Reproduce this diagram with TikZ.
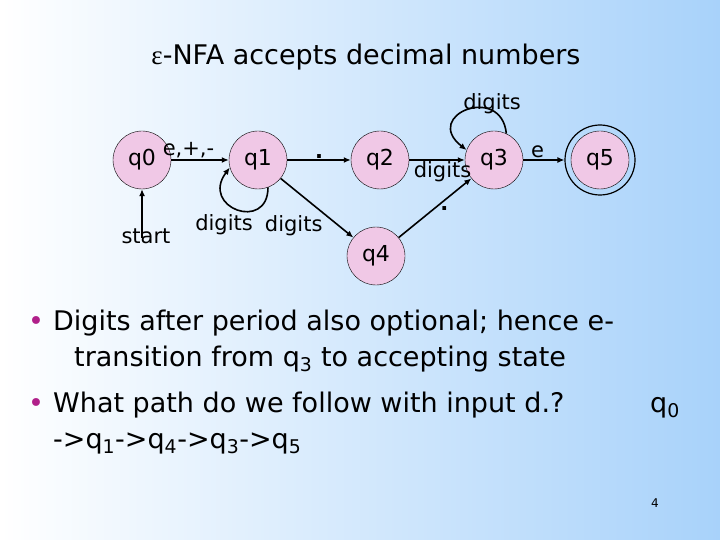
\documentclass[tikz,border=0pt]{standalone}
\usepackage{fontspec}
\setmainfont{DejaVu Sans}
\newfontfamily\serifeps{Liberation Serif}
\usetikzlibrary{arrows.meta}
\definecolor{bgblue}{HTML}{A8D2FA}
\definecolor{nodepink}{HTML}{F0C8E6}
\definecolor{bulletc}{HTML}{B0208A}
\begin{document}
\begin{tikzpicture}[x=1pt,y=-1pt,
  st/.style={circle,draw=black,thin,fill=nodepink,minimum size=58pt,inner sep=0pt,font=\fontsize{22}{22}\selectfont},
  lab/.style={font=\fontsize{21}{21}\selectfont,inner sep=1pt},
  ed/.style={-{Latex[length=7pt,width=6pt]},line width=1.6pt},
  txt/.style={anchor=base west,font=\fontsize{27}{27}\selectfont,inner sep=0pt}]
\shade[left color=white,right color=bgblue] (0,0) rectangle (720,540);
\useasboundingbox (0,0) rectangle (720,540);
\node[font=\fontsize{27}{27}\selectfont] (title) at (366,57) {{\serifeps ε}-NFA accepts decimal numbers};
\node[st] (q0) at (142,160) {q0};
\node[st] (q1) at (258,160) {q1};
\node[st] (q2) at (380,160) {q2};
\node[st] (q3) at (494,160) {q3};
\node[st] (q4) at (376,256) {q4};
\node[st] (q5) at (600,160) {q5};
\node[circle,draw=black,line width=1.2pt,minimum size=70pt] (q5o) at (q5) {};
\coordinate (s) at (142,238);
\draw[ed,line width=1.2pt] (s) -- (q0);
\node[lab,anchor=north] (slab) at (146,228) {start};
\draw[ed] (q0) -- node[lab,above,pos=0.3] {e,+,-} (q1);
\draw[ed] (q1) -- node[lab,above] {\textbf{.}} (q2);
\draw[ed] (q2) -- node[lab,below right,pos=0.05] {digits} (q3);
\draw[ed] (q3) -- node[lab,above,pos=0.35] {e} (q5o);
\draw[ed] (q1) -- node[lab,below left,pos=0.6] {digits} (q4);
\draw[ed] (q4) -- node[lab,below right,pos=0.55] {\textbf{.}} (q3);
\draw[ed] (q1.290) .. controls +(0,45) and +(-30,40) .. (q1.195);
\node[lab] (l1) at (224,225) {digits};
\draw[ed] (q3.65) .. controls +(-5,-50) and +(-45,-35) .. (q3.160);
\node[lab] (l3) at (492,104) {digits};
\node[txt,text=bulletc] (b1) at (28,330) {\textbullet};
\node[txt] (t1) at (53,330) {Digits after period also optional; hence e-};
\node[txt] (t2) at (74,366) {transition from q\textsubscript{3} to accepting state};
\node[txt,text=bulletc] (b2) at (28,412) {\textbullet};
\node[txt] (t3) at (53,412) {What path do we follow with input d.?};
\node[txt] (t4) at (650,412) {q\textsubscript{0}};
\node[txt] (t5) at (53,448) {->q\textsubscript{1}->q\textsubscript{4}->q\textsubscript{3}->q\textsubscript{5}};
\node[font=\fontsize{12}{12}\selectfont] (pg) at (655,503) {4};
\end{tikzpicture}
\end{document}
